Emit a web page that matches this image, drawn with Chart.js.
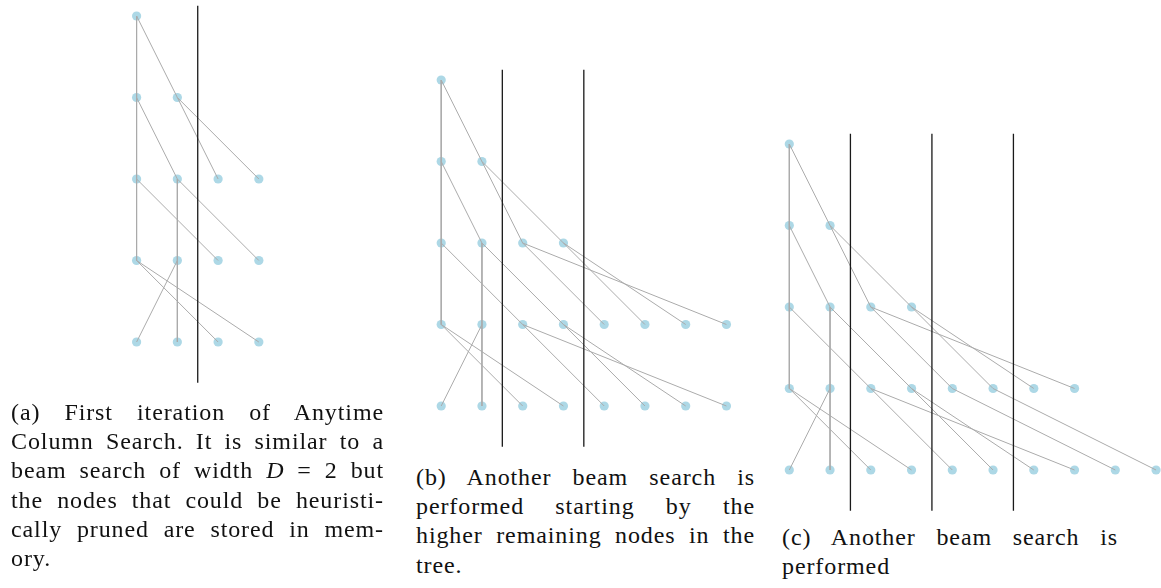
<!DOCTYPE html>
<html lang="en">
<head>
<meta charset="UTF-8">
<title>Anytime Column Search</title>
<script src="https://cdn.jsdelivr.net/npm/chart.js"></script>
<style>
    body { margin: 0; background: #fff; width: 1161px; height: 588px; position: relative; overflow: hidden; }
    canvas { position: absolute; }
    .caption { position: absolute; font-family: "Liberation Serif", "DejaVu Serif", serif; font-size: 24px; letter-spacing: 0.9px; color: #111; }
    .caption div { height: 29.2px; line-height: 29.2px; text-align: justify; text-align-last: justify; white-space: nowrap; }
    .caption div.last { text-align-last: left; }
</style>
</head>
<body>
<canvas id="treeA" width="200" height="400" style="left:100px;top:0px"></canvas>
<canvas id="treeB" width="330" height="400" style="left:420px;top:60px"></canvas>
<canvas id="treeC" width="391" height="400" style="left:770px;top:120px"></canvas>

<div class="caption" id="capA" style="left:11px;top:398px;width:373px"></div>
<div class="caption" id="capB" style="left:416px;top:463px;width:339px"></div>
<div class="caption" id="capC" style="left:782px;top:523px;width:336px"></div>

<script>
// nodes on each level (level 0 = root)
const nodesPerLevelA = [1, 2, 4, 4, 4];
const nodesPerLevelB = [1, 2, 4, 8, 8];
const nodesPerLevelC = [1, 2, 4, 8, 10];

// edges: [column, level, column, level]
const edgesA = [
    [0, 0, 0, 1], [0, 0, 1, 1],
    [0, 1, 0, 2], [0, 1, 1, 2], [1, 1, 2, 2], [1, 1, 3, 2],
    [0, 2, 0, 3], [0, 2, 2, 3], [1, 2, 1, 4], [1, 2, 3, 3],
    [0, 3, 2, 4], [0, 3, 3, 4], [1, 3, 0, 4]
];
const extraEdgesB = [
    [2, 2, 4, 3], [2, 2, 7, 3], [3, 2, 5, 3], [3, 2, 6, 3],
    [2, 3, 4, 4], [2, 3, 7, 4], [3, 3, 5, 4], [3, 3, 6, 4]
];
const extraEdgesC = [
    [4, 3, 8, 4], [5, 3, 9, 4]
];
const edgesB = edgesA.concat(extraEdgesB);
const edgesC = edgesB.concat(extraEdgesC);

// column separators (between columns)
const cutsA = [1.5];
const cutsB = [1.5, 3.5];
const cutsC = [1.5, 3.5, 5.5];
const cutTop = -0.125;
const cutBottom = 4.5;

const captionA = ['(a) First iteration of Anytime', 'Column Search. It is similar to a',
    'beam search of width <i>D</i> = 2 but', 'the nodes that could be heuristi-',
    'cally pruned are stored in mem-', 'ory.'];
const captionB = ['(b) Another beam search is', 'performed starting by the',
    'higher remaining nodes in the', 'tree.'];
const captionC = ['(c) Another beam search is', 'performed'];

// pixel layout of a panel: where column 0 / level 0 sit and the spacing
const COL_STEP = 40.75;
const LEVEL_STEP = 81.5;

function drawTree(id, canvasLeft, canvasTop, col0, level0, nodesPerLevel, edges, cuts) {
    const canvas = document.getElementById(id);
    const w = canvas.width, h = canvas.height;

    const nodes = [];
    nodesPerLevel.forEach((n, lvl) => {
        for (let c = 0; c < n; c++) nodes.push({ x: c, y: lvl });
    });

    const datasets = [];
    edges.forEach(e => {
        datasets.push({
            data: [{ x: e[0], y: e[1] }, { x: e[2], y: e[3] }],
            showLine: true,
            borderColor: '#ababab',
            borderWidth: 1,
            pointRadius: 0,
            order: 2
        });
    });
    cuts.forEach(c => {
        datasets.push({
            data: [{ x: c, y: cutTop }, { x: c, y: cutBottom }],
            showLine: true,
            borderColor: '#1a1a1a',
            borderWidth: 1.3,
            pointRadius: 0,
            order: 1
        });
    });
    datasets.push({
        data: nodes,
        backgroundColor: '#add8e6',
        borderColor: '#add8e6',
        pointRadius: 4.6,
        pointBorderWidth: 0,
        order: 3
    });

    new Chart(canvas.getContext('2d'), {
        type: 'scatter',
        data: { datasets: datasets },
        options: {
            responsive: false,
            animation: false,
            layout: { padding: 0, autoPadding: false },
            plugins: { legend: { display: false }, tooltip: { enabled: false } },
            scales: {
                x: {
                    type: 'linear', display: false,
                    min: (canvasLeft - col0) / COL_STEP,
                    max: (canvasLeft + w - col0) / COL_STEP
                },
                y: {
                    type: 'linear', display: false, reverse: true,
                    min: (canvasTop - level0) / LEVEL_STEP,
                    max: (canvasTop + h - level0) / LEVEL_STEP
                }
            }
        }
    });
}

drawTree('treeA', 100, 0, 136.6, 16, nodesPerLevelA, edgesA, cutsA);
drawTree('treeB', 420, 60, 441.2, 80, nodesPerLevelB, edgesB, cutsB);
drawTree('treeC', 770, 120, 789.3, 144, nodesPerLevelC, edgesC, cutsC);

function fillCaption(id, lines) {
    const box = document.getElementById(id);
    lines.forEach((t, i) => {
        const d = document.createElement('div');
        d.innerHTML = t;
        if (i === lines.length - 1) d.className = 'last';
        box.appendChild(d);
    });
}
fillCaption('capA', captionA);
fillCaption('capB', captionB);
fillCaption('capC', captionC);
</script>
</body>
</html>
